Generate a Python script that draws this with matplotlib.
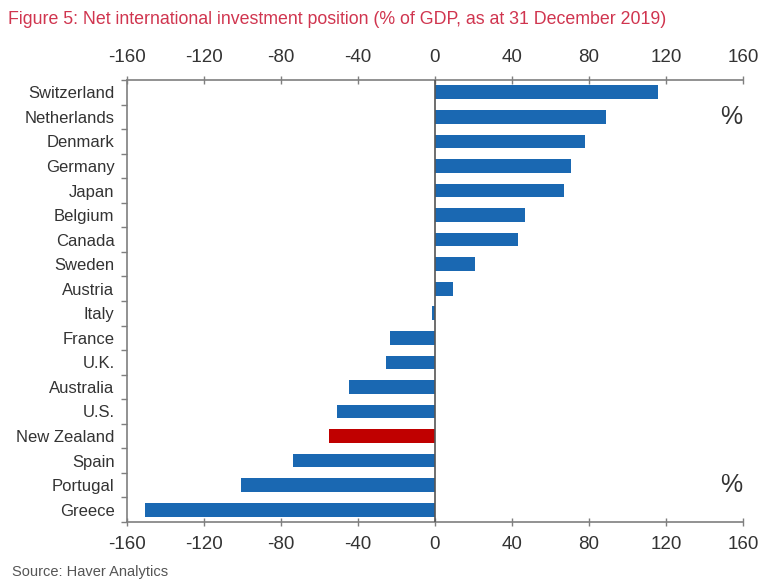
import numpy as np
import matplotlib.pyplot as plt
from matplotlib.ticker import FixedLocator, NullFormatter

plt.rcParams["font.family"] = ["Liberation Sans", "DejaVu Sans"]

countries = ["Switzerland", "Netherlands", "Denmark", "Germany", "Japan",
             "Belgium", "Canada", "Sweden", "Austria", "Italy", "France",
             "U.K.", "Australia", "U.S.", "New Zealand", "Spain", "Portugal",
             "Greece"]
niip = [116, 88.7, 77.7, 70.8, 67.2, 46.9, 43.3, 20.8, 9.5, -1.4, -23.4,
        -25.5, -44.7, -51.1, -54.9, -73.9, -100.8, -150.6]
highlight = "New Zealand"
xticks = [-160, -120, -80, -40, 0, 40, 80, 120, 160]

blue = "#1a68b2"
red = "#c00000"
grey = "#7f7f7f"
text = "#333333"

fig = plt.figure(figsize=(7.62, 5.81), dpi=100)
ax = fig.add_axes([127 / 762, 59 / 581, 616 / 762, 442 / 581])

y = np.arange(len(countries))
colors = [red if c == highlight else blue for c in countries]
ax.barh(y, niip, height=0.56, color=colors, zorder=2)

ax.set_xlim(-160, 160)
ax.set_ylim(len(countries) - 0.5, -0.5)

# category labels, with tick marks between the bars
ax.set_yticks(y)
ax.set_yticklabels(countries, fontsize=12, color=text)
ax.tick_params(axis="y", which="major", length=0, pad=9)
ax.yaxis.set_minor_locator(FixedLocator(np.arange(-0.5, len(countries), 1)))
ax.yaxis.set_minor_formatter(NullFormatter())
ax.tick_params(axis="y", which="minor", length=4, width=1, color=grey,
               direction="out")

ax.set_xticks(xticks)
ax.set_xticklabels([str(v) for v in xticks])
ax.tick_params(axis="x", which="both", top=True, labeltop=True,
               bottom=True, labelbottom=True, direction="inout",
               length=6, width=1, color=grey, labelsize=13.5,
               labelcolor=text, pad=7)

for side in ["top", "bottom", "left"]:
    ax.spines[side].set_color(grey)
    ax.spines[side].set_linewidth(1.2)
ax.spines["right"].set_visible(False)

ax.axvline(0, color="#555555", lw=1.2, zorder=3)

ax.text(154, 1, "%", fontsize=18, color=text, ha="center", va="center")
ax.text(154, 16, "%", fontsize=18, color=text, ha="center", va="center")

fig.text(8 / 762, 1 - 20 / 581,
         "Figure 5: Net international investment position "
         "(% of GDP, as at 31 December 2019)",
         fontsize=12.8, color="#d0354f", ha="left", va="center")
fig.text(12 / 762, 1 - 572 / 581, "Source: Haver Analytics",
         fontsize=10.5, color="#555555", ha="left", va="center")

fig.savefig("out.png", dpi=100, facecolor="white")
